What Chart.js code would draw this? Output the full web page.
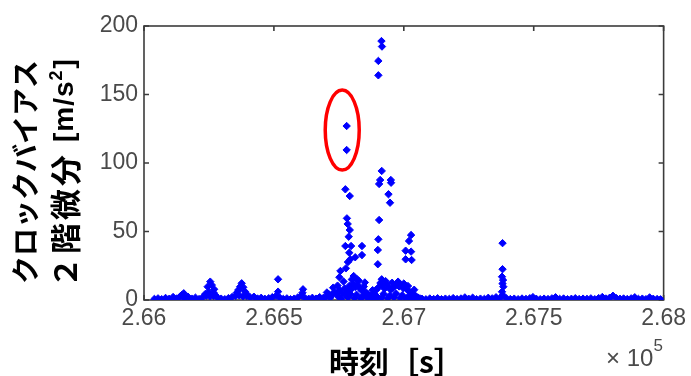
<!DOCTYPE html>
<html>
<head>
<meta charset="utf-8">
<script src="https://cdn.jsdelivr.net/npm/chart.js@4.4.0/dist/chart.umd.min.js"></script>
<style>
  html, body { margin: 0; padding: 0; background: #fff; }
  #wrap { width: 691px; height: 376px; }
</style>
</head>
<body>
<div id="wrap"><canvas id="chart" width="691" height="376"></canvas></div>
<script>
// time [s] and 2nd derivative of clock bias [m/s^2]
const xTicks = [266000, 266500, 267000, 267500, 268000];
const yTicks = [0, 50, 100, 150, 200];

// dense band near zero
const baseline = [
  [266040, 0.8], [266054, 1.2], [266068, 0.6], [266083, 1.5], [266097, 0.9], [266112, 2.2],
  [266126, 1.1], [266140, 2.8], [266155, 1.3], [266169, 2.4], [266184, 1.0], [266198, 1.7],
  [266212, 0.7], [266226, 2.0], [266240, 3.1], [266254, 2.5], [266268, 2.9], [266283, 1.8],
  [266297, 1.0], [266311, 0.6], [266325, 1.4], [266339, 2.2], [266353, 2.9], [266367, 3.3],
  [266381, 2.6], [266395, 2.8], [266409, 1.9], [266423, 2.4], [266437, 1.1], [266451, 1.6],
  [266465, 0.9], [266480, 1.3], [266494, 2.1], [266508, 3.0], [266522, 1.8], [266536, 0.8],
  [266550, 1.2], [266564, 0.6], [266578, 1.0], [266592, 1.9], [266606, 3.2], [266620, 1.4],
  [266634, 0.9], [266648, 1.6], [266662, 1.0], [266676, 2.1], [266690, 1.5],
  [267070, 0.9], [267085, 0.5], [267100, 1.1], [267115, 0.7], [267130, 1.3], [267145, 0.6],
  [267160, 1.0], [267175, 0.8], [267190, 1.4], [267205, 0.7], [267220, 1.1], [267235, 1.9],
  [267250, 0.9], [267265, 1.7], [267280, 0.6], [267295, 1.0], [267310, 0.8], [267325, 1.6],
  [267340, 1.2], [267355, 2.0], [267370, 1.4], [267395, 1.2], [267410, 0.7], [267425, 1.0],
  [267440, 0.6], [267455, 1.1], [267470, 0.8], [267485, 1.3], [267497, 2.1], [267510, 0.9],
  [267525, 0.6], [267540, 1.0], [267555, 0.7], [267570, 1.2], [267584, 2.0], [267600, 0.8],
  [267615, 1.1], [267630, 0.6], [267645, 0.9], [267660, 1.3], [267675, 0.7], [267690, 1.0],
  [267705, 0.8], [267720, 1.2], [267735, 0.6], [267750, 1.4], [267764, 2.2], [267778, 1.1],
  [267792, 1.6], [267805, 3.1], [267818, 1.4], [267832, 0.9], [267846, 1.1], [267860, 0.7],
  [267875, 1.2], [267889, 2.0], [267903, 0.8], [267918, 1.0], [267932, 0.6], [267946, 1.9],
  [267960, 0.9], [267975, 0.7], [267988, 0.5]
];

// raised blob around 2.667-2.6705
const mound = [
  [266700, 2.6], [266712, 4.1], [266722, 3.3], [266732, 5.8], [266742, 4.6], [266752, 7.2],
  [266762, 5.1], [266772, 8.4], [266782, 6.6], [266790, 10.3], [266798, 7.9], [266806, 12.1],
  [266814, 9.4], [266822, 11.2], [266830, 8.5], [266838, 6.9], [266846, 9.8], [266854, 5.7],
  [266862, 4.2], [266870, 3.1], [266878, 2.4], [266886, 4.8], [266894, 7.5], [266902, 9.1],
  [266910, 12.4], [266918, 10.6], [266926, 8.3], [266934, 11.7], [266942, 9.2], [266950, 7.4],
  [266958, 8.8], [266966, 10.2], [266974, 11.4], [266982, 9.9], [266990, 10.8], [266998, 8.6],
  [267006, 9.5], [267014, 7.3], [267022, 6.1], [267030, 5.2], [267038, 4.0], [267046, 2.9],
  [267054, 1.8], [267062, 1.2],
  [266716, 1.5], [266748, 2.3], [266776, 3.6], [266794, 4.4], [266818, 3.9], [266842, 2.7],
  [266866, 1.3], [266898, 2.2], [266922, 4.5], [266946, 3.2], [266970, 4.8], [266994, 3.5],
  [267018, 2.6], [267042, 1.4], [266760, 1.1], [266786, 1.9], [266810, 1.6], [266834, 1.2],
  [266858, 1.8], [266890, 1.0], [266914, 1.7], [266938, 1.3], [266962, 2.0], [266986, 1.5],
  [267010, 1.1], [267034, 0.9],
  [266704, 5.5], [266728, 9.0], [266745, 10.5], [266768, 13.5], [266800, 15.0], [266826, 14.2],
  [266850, 12.8], [266880, 7.2], [266930, 13.8], [266955, 12.6], [266978, 13.4], [267000, 12.0],
  [267016, 10.2], [267040, 7.5]
];

// isolated large values
const spikes = [
  [266780, 127], [266780, 109.5],
  [266914, 189], [266916, 185], [266902, 174.5], [266902, 164],
  [266775, 80.8], [266792, 75.9],
  [266915, 94.2], [266909, 87.6], [266905, 84.7], [266950, 87.6], [266951, 85.6], [266941, 77.2], [266947, 71],
  [266905, 58.4], [266781, 59.6], [266784, 55.5], [266792, 51.1], [266788, 46.2], [266775, 39.4],
  [266797, 39.4], [266839, 39.4], [266790, 34.5], [266839, 32.8], [266813, 31.2], [266794, 29.7],
  [266785, 27.7], [266777, 23.1], [266756, 21.2], [266752, 16.6], [266807, 17.5], [266820, 15.1],
  [266902, 44.3], [266900, 36.5], [266900, 26.1], [266915, 15.1],
  [267028, 47.4], [267020, 43.1], [267007, 36], [267028, 35.3], [267007, 29.7], [267030, 29.2],
  [267380, 41.5], [267380, 22.5], [267378, 17], [267382, 14.6], [267380, 12], [267383, 9.7],
  [267378, 6], [267381, 3.6],
  [266255, 13.4], [266261, 10.9], [266245, 9.7], [266270, 7.8], [266249, 6.1], [266268, 5.3],
  [266236, 4.4], [266274, 3.6],
  [266376, 12.2], [266370, 9.7], [266382, 9.3], [266363, 7.3], [266389, 6.1], [266357, 5.3], [266395, 4.4],
  [266516, 15.1], [266516, 6.1], [266612, 7.8], [266610, 5.3], [266153, 4.9], [266145, 3.6]
];

// red ring around the two marked points
const circled = { t: 266763, v: 124 };

const toXY = (arr) => arr.map(([t, v]) => ({ x: t, y: v }));
const blue = "#0000ff";
const tickFont = { family: "'Liberation Sans', Arial, sans-serif", size: 23 };
const tickColor = "#4a4a4a";

const dataset = (arr) => ({
  data: toXY(arr),
  pointStyle: "rectRot",
  pointRadius: 3.7,
  pointBackgroundColor: blue,
  pointBorderColor: blue,
  pointBorderWidth: 1,
  showLine: false,
});

const frame = {
  id: "frame",
  beforeDatasetsDraw(chart) {
    const { ctx, chartArea: a, scales: { x, y } } = chart;
    ctx.save();
    ctx.strokeStyle = "#3c3c3c";
    ctx.lineWidth = 1.6;
    ctx.strokeRect(a.left, a.top, a.right - a.left, a.bottom - a.top);
    ctx.beginPath();
    xTicks.forEach((v) => {
      const px = x.getPixelForValue(v);
      ctx.moveTo(px, a.bottom); ctx.lineTo(px, a.bottom - 5);
      ctx.moveTo(px, a.top); ctx.lineTo(px, a.top + 5);
    });
    yTicks.forEach((v) => {
      const py = y.getPixelForValue(v);
      ctx.moveTo(a.left, py); ctx.lineTo(a.left + 5, py);
      ctx.moveTo(a.right, py); ctx.lineTo(a.right - 5, py);
    });
    ctx.stroke();
    ctx.restore();
  },
  afterDatasetsDraw(chart) {
    const { ctx, scales: { x, y } } = chart;
    ctx.save();
    ctx.strokeStyle = "#ff0000";
    ctx.lineWidth = 3.5;
    ctx.beginPath();
    ctx.ellipse(x.getPixelForValue(circled.t), y.getPixelForValue(circled.v), 17, 40, 0, 0, Math.PI * 2);
    ctx.stroke();
    ctx.restore();
  },
};

const titles = {
  id: "titles",
  afterDraw(chart) {
    const { ctx } = chart;
    const jp = "'Noto Sans CJK JP', sans-serif";
    ctx.save();
    ctx.fillStyle = "#000";
    ctx.textBaseline = "middle";
    ctx.textAlign = "left";

    // x title
    ctx.font = `bold 30px ${jp}`;
    ctx.fillText("時刻［s］", 329, 362);

    // y title, two rotated lines
    ctx.save();
    ctx.translate(25, 284);
    ctx.rotate(-Math.PI / 2);
    ctx.font = `bold 28px ${jp}`;
    ctx.fillText("クロックバイアス", 0, 0);
    ctx.restore();

    ctx.save();
    ctx.translate(65, 288);
    ctx.rotate(-Math.PI / 2);
    ctx.font = `bold 31px ${jp}`;
    ctx.letterSpacing = "3px";
    ctx.fillText("２階微分", 0, 0);
    ctx.letterSpacing = "1px";
    ctx.font = "bold 28px 'Liberation Sans', Arial, sans-serif";
    ctx.fillText("[m/s", 146, 0);
    let w = 146 + ctx.measureText("[m/s").width;
    ctx.font = "bold 18px 'Liberation Sans', Arial, sans-serif";
    ctx.fillText("2", w, -8);
    w += ctx.measureText("2").width + 1;
    ctx.font = "bold 28px 'Liberation Sans', Arial, sans-serif";
    ctx.fillText("]", w, 0);
    ctx.restore();

    // exponent note
    ctx.fillStyle = tickColor;
    ctx.font = "24px 'Liberation Sans', Arial, sans-serif";
    ctx.fillText("× 10", 606, 359);
    const ew = ctx.measureText("× 10").width;
    ctx.font = "17px 'Liberation Sans', Arial, sans-serif";
    ctx.fillText("5", 606 + ew, 346);
    ctx.restore();
  },
};

const config = {
  type: "scatter",
  data: {
    datasets: [dataset(baseline), dataset(mound), dataset(spikes)],
  },
  options: {
    responsive: false,
    animation: false,
    layout: { padding: { top: 26, right: 24, left: 0, bottom: 0 } },
    plugins: { legend: { display: false }, tooltip: { enabled: false } },
    scales: {
      x: {
        type: "linear",
        min: 266000,
        max: 268000,
        afterFit: (s) => { s.height = 76; },
        afterBuildTicks: (s) => { s.ticks = xTicks.map((v) => ({ value: v })); },
        grid: { display: false, drawTicks: false },
        border: { display: false },
        ticks: {
          padding: 5,
          maxRotation: 0,
          autoSkip: false,
          font: tickFont,
          color: tickColor,
          callback: (v) => String(parseFloat((v / 1e5).toFixed(3))),
        },
      },
      y: {
        type: "linear",
        min: 0,
        max: 200,
        afterFit: (s) => { s.width = 144; },
        afterBuildTicks: (s) => { s.ticks = yTicks.map((v) => ({ value: v })); },
        grid: { display: false, drawTicks: false },
        border: { display: false },
        ticks: { padding: 6, font: tickFont, color: tickColor },
      },
    },
  },
  plugins: [frame, titles],
};

const chart = new Chart(document.getElementById("chart"), config);
</script>
</body>
</html>
